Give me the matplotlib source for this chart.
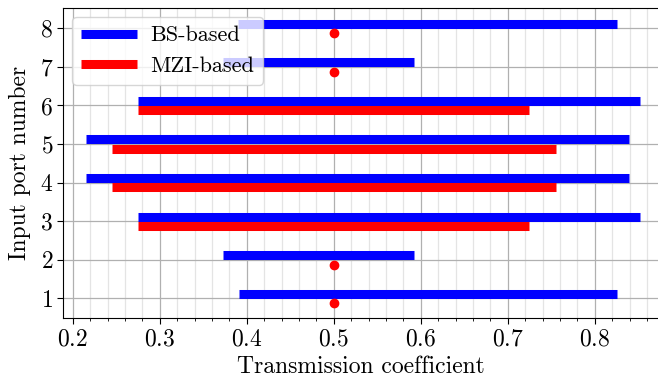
import matplotlib
matplotlib.use("Agg")
import matplotlib.pyplot as plt
from matplotlib.ticker import MultipleLocator
import numpy as np

plt.rcParams.update({
    "font.family": "serif",
    "font.serif": ["cmr10"],
    "mathtext.fontset": "cm",
    "axes.formatter.use_mathtext": True,
    "font.size": 17,
})

ports = np.arange(1, 9)
bs_min = [0.391, 0.373, 0.2755, 0.2153, 0.2153, 0.2755, 0.373, 0.390]
bs_max = [0.826, 0.592, 0.852, 0.839, 0.839, 0.852, 0.592, 0.826]
mzi_min = [0.5, 0.5, 0.2755, 0.245, 0.245, 0.2755, 0.5, 0.5]
mzi_max = [0.5, 0.5, 0.724, 0.755, 0.755, 0.724, 0.5, 0.5]

bs_min = np.array(bs_min)
bs_max = np.array(bs_max)
mzi_min = np.array(mzi_min)
mzi_max = np.array(mzi_max)

fig = plt.figure(figsize=(6.58, 3.81), dpi=100)
ax = fig.add_axes([0.0965, 0.165, 0.905, 0.814])

off = 0.122
ax.hlines(ports + off, bs_min, bs_max, colors="blue", linewidth=6.5, label="BS-based")
# MZI ports with a single value are drawn as dots
spread = mzi_max > mzi_min
ax.hlines(ports[spread] - off, mzi_min[spread], mzi_max[spread], colors="red",
          linewidth=6.5, label="MZI-based")
ax.plot(mzi_min[~spread], ports[~spread] - off, "o", color="red", markersize=6)

ax.set_xlim(0.1894, 0.8738)
ax.set_ylim(0.49, 8.525)
ax.set_yticks(ports)
ax.xaxis.set_major_locator(MultipleLocator(0.1))
ax.xaxis.set_minor_locator(MultipleLocator(0.02))
ax.set_axisbelow(True)
ax.grid(True, which="major", color="#b0b0b0", linewidth=0.9)
ax.grid(True, which="minor", axis="x", color="#e4e4e4", linewidth=0.9)
ax.spines["right"].set_visible(False)
ax.tick_params(which="major", length=4)
ax.tick_params(which="minor", length=2.5)

ax.set_xlabel("Transmission coefficient", labelpad=4)
ax.set_ylabel("Input port number", labelpad=6)
ax.legend(loc="upper left", handlelength=2.5, handletextpad=0.6, fontsize=16,
          borderaxespad=0.4)

fig.savefig("out.png", dpi=100)
